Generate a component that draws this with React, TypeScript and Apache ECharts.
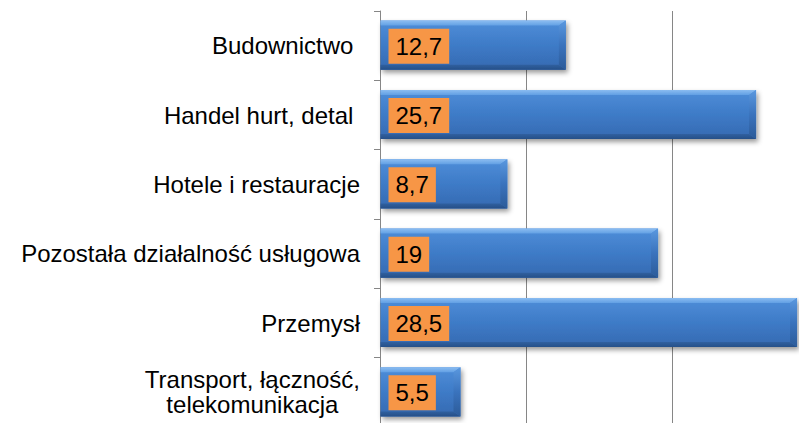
import React, { useEffect, useRef } from "react";
import * as echarts from "echarts";

const categories = [
  "Budownictwo ",
  "Handel hurt, detal ",
  "Hotele i restauracje",
  "Pozostała działalność usługowa",
  "Przemysł",
  "Transport, łączność,\ntelekomunikacja",
];
const values = [12.7, 25.7, 8.7, 19, 28.5, 5.5];
const xMin = 0;
const xMax = 30;
const xInterval = 10;

const FONT = "'Liberation Sans', Arial, sans-serif";

export default function App() {
  const ref = useRef<HTMLDivElement>(null);
  useEffect(() => {
    if (!ref.current) return;
    const chart = echarts.init(ref.current, null, { renderer: "svg" });
    const data = values.map((v, i) => [v, i]);
    chart.setOption({
      animation: false,
      grid: { left: 380, top: 11, width: 439, height: 416, outerBoundsMode: "none", containLabel: false },
      xAxis: {
        type: "value",
        min: xMin,
        max: xMax,
        interval: xInterval,
        axisLabel: { show: false },
        axisLine: { show: false },
        axisTick: { show: false },
        splitLine: { show: true, lineStyle: { color: "#868686", width: 1 } },
      },
      yAxis: {
        type: "category",
        data: categories,
        inverse: true,
        axisLine: { show: true, lineStyle: { color: "#868686", width: 1 } },
        axisTick: { show: true, length: 6, lineStyle: { color: "#868686" } },
        axisLabel: {
          margin: 20,
          formatter: (v: string) =>
            v
              .split("\n")
              .map((l) => `{c|${l}}`)
              .join("\n"),
          rich: {
            c: {
              align: "center",
              fontSize: 24,
              fontFamily: FONT,
              color: "#000",
              lineHeight: 25,
            },
          },
        },
      },
      series: [
        {
          type: "custom",
          encode: { x: 0, y: 1 },
          clip: false,
          data,
          renderItem: (params: any, api: any) => {
            const v = api.value(0);
            const idx = api.value(1);
            const s = api.coord([0, idx]);
            const e = api.coord([v, idx]);
            const band = api.size([0, 1])[1];
            const h = band * 0.71;
            const x0 = s[0] + 0.5;
            const x1 = e[0];
            const yc = s[1] - 0.5;
            const y0 = yc - h / 2;
            const y1 = yc + h / 2;
            const bt = 5;
            const bb = 5;
            const br = 7;
            const label = String(v).replace(".", ",");
            return {
              type: "group",
              children: [
                {
                  type: "rect",
                  shape: { x: x0, y: y0, width: x1 - x0, height: h },
                  style: {
                    fill: new echarts.graphic.LinearGradient(0, 0, 0, 1, [
                      { offset: 0, color: "#4f8ed9" },
                      { offset: 0.5, color: "#3e7bc7" },
                      { offset: 1, color: "#3569b1" },
                    ]),
                    shadowBlur: 5,
                    shadowOffsetX: 2,
                    shadowOffsetY: 3,
                    shadowColor: "rgba(0,0,0,0.4)",
                  },
                },
                {
                  type: "polygon",
                  shape: {
                    points: [
                      [x0, y0],
                      [x1, y0],
                      [x1 - br, y0 + bt],
                      [x0, y0 + bt],
                    ],
                  },
                  style: {
                    fill: new echarts.graphic.LinearGradient(0, 0, 0, 1, [
                      { offset: 0, color: "#8cbdf1" },
                      { offset: 1, color: "#62a0e4" },
                    ]),
                  },
                },
                {
                  type: "polygon",
                  shape: {
                    points: [
                      [x0, y1],
                      [x1, y1],
                      [x1 - br, y1 - bb],
                      [x0, y1 - bb],
                    ],
                  },
                  style: {
                    fill: new echarts.graphic.LinearGradient(0, 0, 0, 1, [
                      { offset: 0, color: "#30609f" },
                      { offset: 1, color: "#254f88" },
                    ]),
                  },
                },
                {
                  type: "polygon",
                  shape: {
                    points: [
                      [x1, y0],
                      [x1, y1],
                      [x1 - br, y1 - bb],
                      [x1 - br, y0 + bt],
                    ],
                  },
                  style: {
                    fill: new echarts.graphic.LinearGradient(0, 0, 0, 1, [
                      { offset: 0, color: "#5a98df" },
                      { offset: 0.5, color: "#3a73bd" },
                      { offset: 1, color: "#2c5b99" },
                    ]),
                  },
                },
                {
                  type: "text",
                  x: x0 + 8,
                  y: yc + 1,
                  style: {
                    text: label,
                    font: `24px ${FONT}`,
                    fill: "#000",
                    align: "left",
                    verticalAlign: "middle",
                    backgroundColor: "#f79646",
                    padding: [5, 7, 6, 7],
                  },
                },
              ],
            };
          },
        },
      ],
    });
    return () => chart.dispose();
  }, []);
  return (
    <div
      ref={ref}
      style={{ position: "fixed", left: 0, top: 0, width: 799, height: 423, background: "#fff" }}
    />
  );
}
